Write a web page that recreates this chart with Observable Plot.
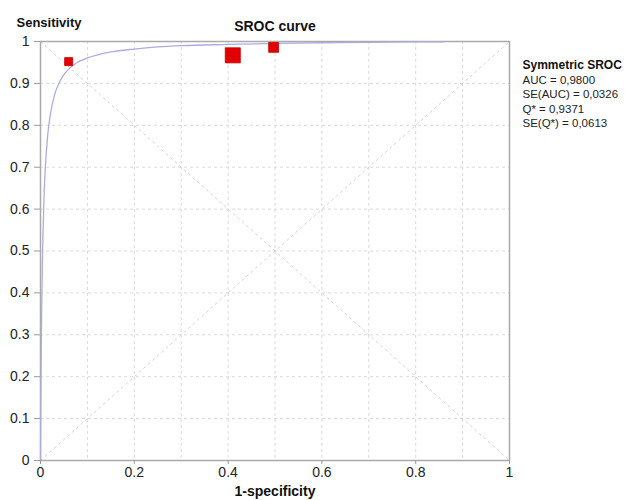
<!DOCTYPE html>
<html>
<head>
<meta charset="utf-8">
<script src="https://cdn.jsdelivr.net/npm/d3@7"></script>
<script src="https://cdn.jsdelivr.net/npm/@observablehq/plot@0.6"></script>
<style>
  html, body { margin: 0; padding: 0; background: #fff; }
</style>
</head>
<body>
<div id="chart"></div>
<script>
// ---- data ----
const title = "SROC curve";
const xLabel = "1-specificity";
const yLabel = "Sensitivity";

// Study points (1-specificity, sensitivity, relative weight)
const studyFpr = [0.060, 0.410, 0.497];
const studyTpr = [0.952, 0.967, 0.986];
const studyWeight = [1.0, 3.5, 1.5];

// Symmetric SROC curve
const curveFpr = [0, 0.0005, 0.001, 0.002, 0.003, 0.005, 0.0075, 0.01, 0.015, 0.02, 0.03, 0.04, 0.05, 0.06, 0.08, 0.1, 0.125, 0.15, 0.2, 0.25, 0.3, 0.4, 0.5, 0.6, 0.7, 0.8, 0.86];
const curveTpr = [0, 0.100, 0.182, 0.308, 0.400, 0.527, 0.627, 0.692, 0.772, 0.819, 0.873, 0.902, 0.921, 0.934, 0.951, 0.961, 0.969, 0.975, 0.982, 0.987, 0.990, 0.993, 0.9955, 0.997, 0.998, 0.9989, 0.9993];

// Reference diagonals
const diagX1 = [0, 0];
const diagY1 = [0, 1];
const diagX2 = [1, 1];
const diagY2 = [1, 0];

// Ticks
const xTicks = [0, 0.2, 0.4, 0.6, 0.8, 1];
const yTicks = [0, 0.1, 0.2, 0.3, 0.4, 0.5, 0.6, 0.7, 0.8, 0.9, 1];
const gridTicks = [0.1, 0.2, 0.3, 0.4, 0.5, 0.6, 0.7, 0.8, 0.9];

// Legend / statistics
const legendTitle = "Symmetric SROC";
const legendLines = ["AUC = 0,9800", "SE(AUC) = 0,0326", "Q* = 0,9371", "SE(Q*) = 0,0613"];

// ---- build ----
const points = studyFpr.map((x, i) => ({x, y: studyTpr[i], w: studyWeight[i]}));
const curve = curveFpr.map((x, i) => ({x, y: curveTpr[i]}));
const diags = diagX1.map((x1, i) => ({x1, y1: diagY1[i], x2: diagX2[i], y2: diagY2[i]}));
const fmt = d => String(+d.toFixed(1));

const chart = Plot.plot({
  width: 625,
  height: 500,
  marginLeft: 40,
  marginRight: 116,
  marginTop: 41,
  marginBottom: 40,
  style: {fontFamily: "'Liberation Sans', Arial, sans-serif", background: "#fff", color: "#222"},
  x: {domain: [0, 1]},
  y: {domain: [0, 1]},
  r: {type: "sqrt", domain: [0, 3.5], range: [0, 8.5]},
  marks: [
    Plot.gridX(gridTicks, {stroke: "#dadada", strokeOpacity: 1, strokeDasharray: "3,3"}),
    Plot.gridY(gridTicks, {stroke: "#dadada", strokeOpacity: 1, strokeDasharray: "3,3"}),
    Plot.link(diags, {x1: "x1", y1: "y1", x2: "x2", y2: "y2", stroke: "#d4d4d4", strokeDasharray: "3,3"}),
    Plot.frame({stroke: "#aaa", strokeWidth: 1.5}),
    Plot.line(curve, {x: "x", y: "y", stroke: "#acacdf", strokeWidth: 1.3, curve: "monotone-x"}),
    Plot.dot(points, {x: "x", y: "y", r: "w", symbol: "square", fill: "#e30000", stroke: "#c40000", strokeWidth: 0.8}),
    Plot.axisX({ticks: xTicks, tickFormat: fmt, tickSize: 4, tickPadding: 3, fontSize: 14, stroke: "#999", fill: "#222", label: null}),
    Plot.axisY({ticks: yTicks, tickFormat: fmt, tickSize: 6, tickPadding: 5, fontSize: 14, stroke: "#999", fill: "#222", label: null}),
    Plot.text([title], {frameAnchor: "top", dy: -15, fontSize: 14, fontWeight: "bold", fill: "#111", lineAnchor: "middle"}),
    Plot.text([yLabel], {frameAnchor: "top-left", dx: -24, dy: -19, textAnchor: "start", fontSize: 13, fontWeight: "bold", fill: "#111", lineAnchor: "middle"}),
    Plot.text([xLabel], {frameAnchor: "bottom", dy: 31, fontSize: 14, fontWeight: "bold", fill: "#111", lineAnchor: "middle"}),
    Plot.text([legendTitle], {frameAnchor: "top-right", dx: 13, dy: 24, textAnchor: "start", fontSize: 12, fontWeight: "bold", fill: "#111", lineAnchor: "middle"}),
    ...legendLines.map((t, i) => Plot.text([t], {frameAnchor: "top-right", dx: 13, dy: 38.5 + i * 14.6, textAnchor: "start", fontSize: 11.5, fill: "#222", lineAnchor: "middle"}))
  ]
});
document.getElementById("chart").appendChild(chart);
</script>
</body>
</html>
